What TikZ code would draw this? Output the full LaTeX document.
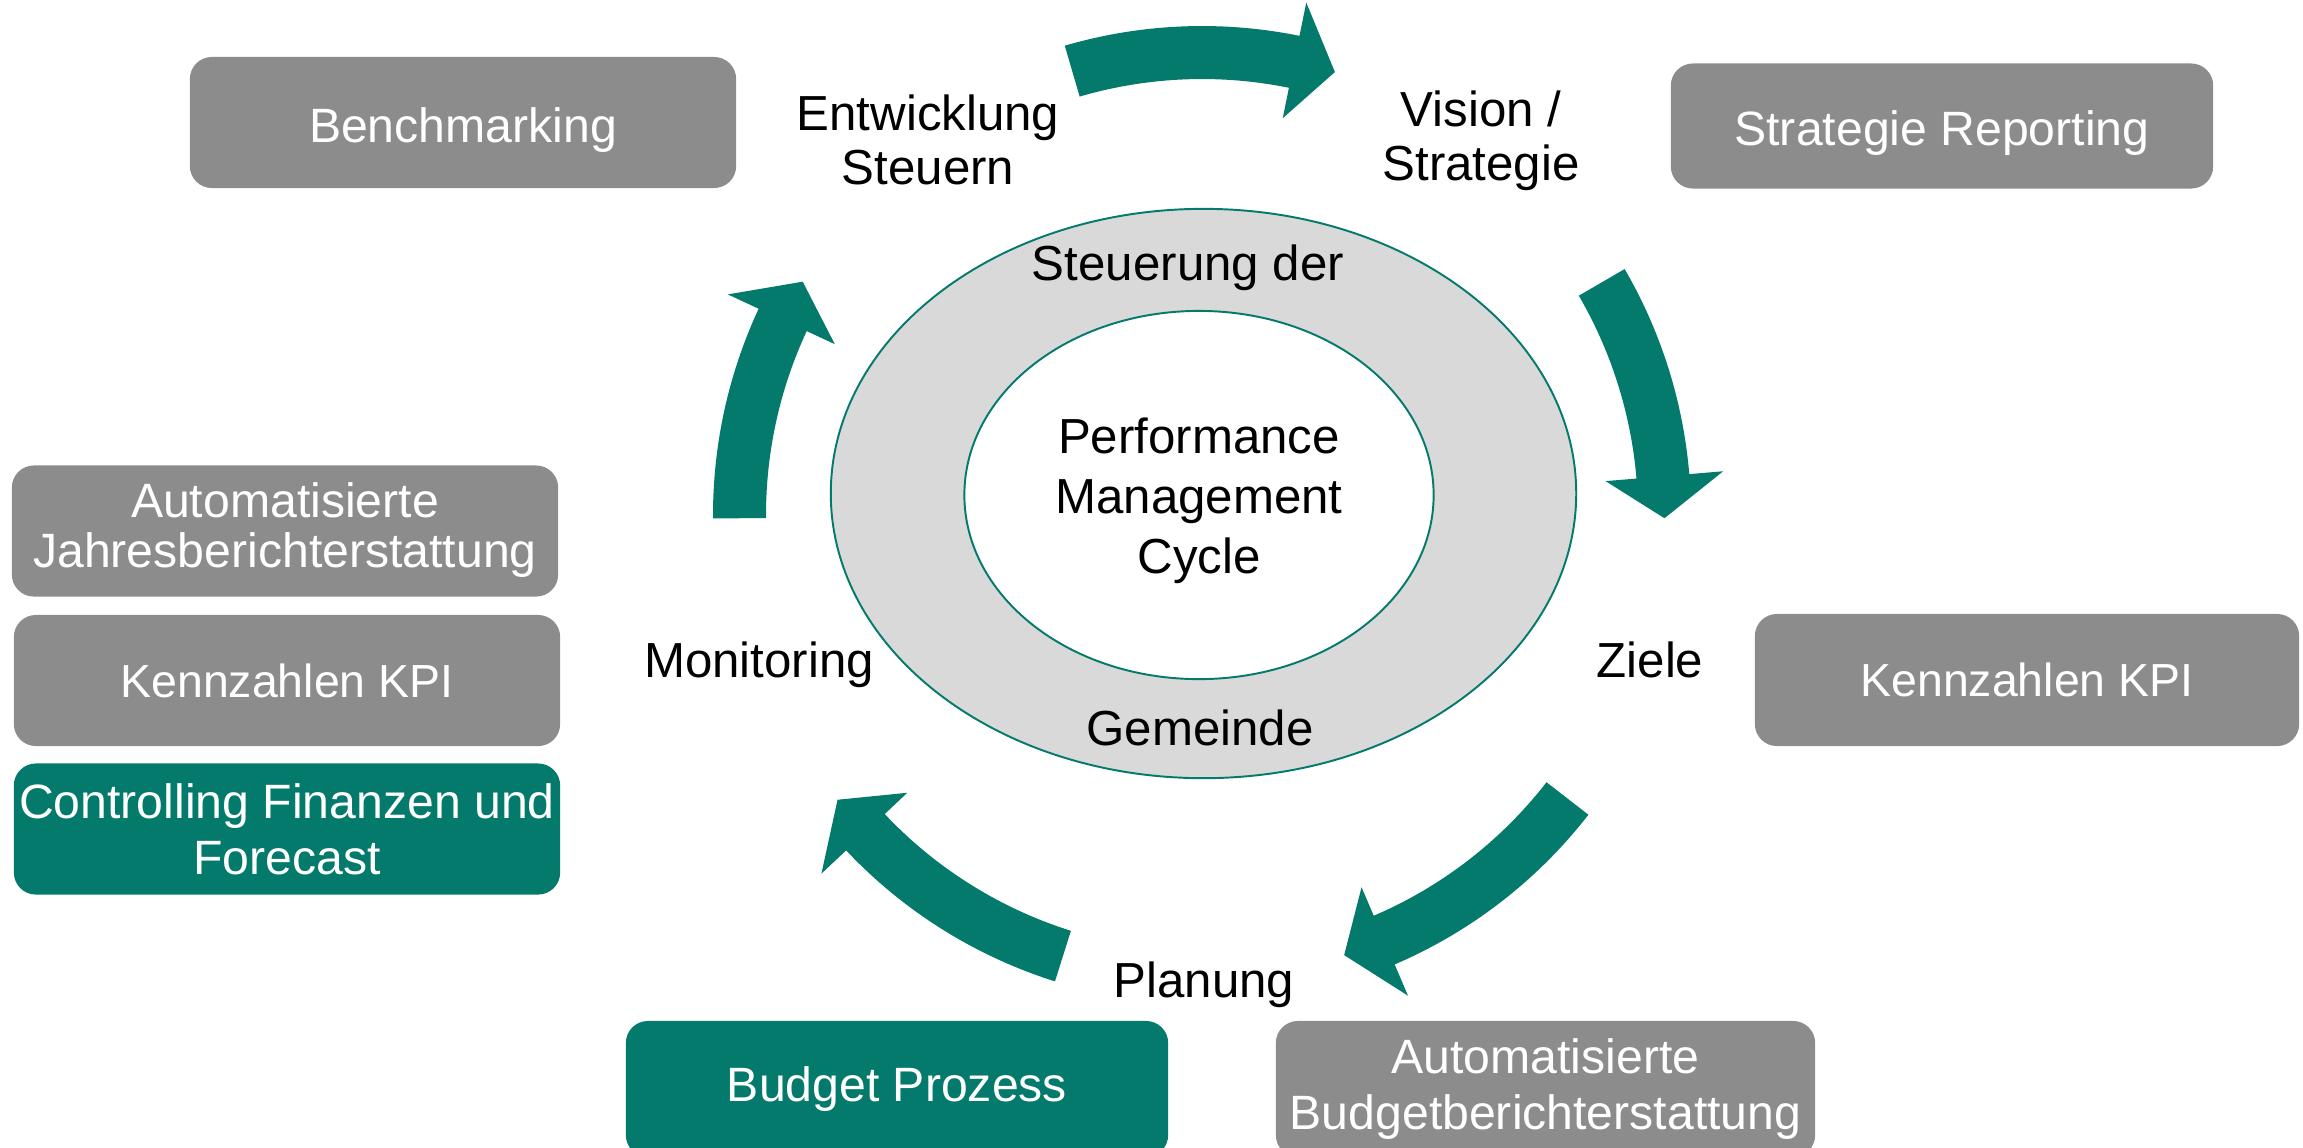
\documentclass[tikz,border=0pt]{standalone}
\usepackage{fontspec}
\setmainfont{Liberation Sans}
\usetikzlibrary{shapes.geometric}
\definecolor{pmteal}{RGB}{3,122,107}
\definecolor{pmgray}{RGB}{140,140,140}
\definecolor{pmring}{RGB}{217,217,217}
\newcommand\cyclearrow[3]{%
  \fill[pmteal] (#1:489) arc[start angle=#1, end angle=#2, radius=489]
    -- (#2:523) -- (#3:462.5) -- (#2:405) -- (#2:436)
    arc[start angle=#2, end angle=#1, radius=436] -- cycle;}
\begin{document}
\begin{tikzpicture}[x=0.01cm,y=0.01cm,
  boxbase/.style={rectangle, rounded corners=0.22cm, text=white, align=center, inner sep=0pt,
    font=\fontsize{13.7}{15.8}\selectfont},
  graybox/.style={boxbase, fill=pmgray},
  tealbox/.style={boxbase, fill=pmteal},
  lbl/.style={align=center, inner sep=0pt, font=\fontsize{14}{15.5}\selectfont},
  ring/.style={ellipse, draw=pmteal, line width=0.55pt, inner sep=0pt}]
\useasboundingbox (0,0) rectangle (2303,-1147);
\clip (0,0) rectangle (2303,-1147);

% central ellipses
\node[ring, fill=pmring, minimum width=7.45cm, minimum height=5.69cm] (outer) at (1203.5,-493.5) {};
\node[ring, fill=white, minimum width=4.69cm, minimum height=3.68cm] (inner) at (1199,-495) {};
\node[lbl, font=\fontsize{14}{17}\selectfont] (pmc) at (1199,-501) {Performance\\Management\\Cycle};
\node[lbl] (steu) at (1188,-268) {Steuerung der};
\node[lbl] (gem) at (1200,-728) {Gemeinde};

% cycle arrows
\begin{scope}[shift={(1202,-515)}]
  \cyclearrow{106.3}{78.5}{73.3}
  \cyclearrow{30.2}{4.8}{-0.4}
  \cyclearrow{-37.8}{-66.8}{-72.1}
  \cyclearrow{-107.5}{-136.7}{-142}
  \cyclearrow{180.4}{155.05}{149.7}
\end{scope}

% stage labels
\node[lbl] (entw) at (928,-140) {Entwicklung\\Steuern};
\node[lbl] (vis) at (1481,-141) {Vision /\\Strategie};
\node[lbl] (ziele) at (1650,-660) {Ziele};
\node[lbl] (plan) at (1204,-985) {Planung};
\node[lbl] (mon) at (759,-665) {Monitoring};

% boxes
\node[graybox, minimum width=5.46cm, minimum height=1.31cm, text height=14pt] (bench) at (463,-122.5) {Benchmarking};
\node[graybox, minimum width=5.42cm, minimum height=1.25cm, text height=14pt] (strat) at (1942,-126) {Strategie Reporting};
\node[graybox, minimum width=5.46cm, minimum height=1.31cm] (jahr) at (285,-531) {\raisebox{-0.05cm}{Automatisierte}\\Jahresberichterstattung\rule[-0.12cm]{0pt}{0pt}};
\node[graybox, minimum width=5.46cm, minimum height=1.31cm, font=\fontsize{13.2}{15.8}\selectfont] (kpil) at (287,-680.5) {Kennzahlen KPI};
\node[tealbox, minimum width=5.46cm, minimum height=1.31cm] (ctrl) at (287,-829) {Controlling Finanzen und\\Forecast};
\node[graybox, minimum width=5.44cm, minimum height=1.32cm, font=\fontsize{13.2}{15.8}\selectfont] (kpir) at (2027,-680) {Kennzahlen KPI};
\node[tealbox, minimum width=5.42cm, minimum height=1.36cm] (budg) at (897,-1089) {Budget Prozess};
\node[graybox, minimum width=5.39cm, minimum height=1.36cm] (abud) at (1545.5,-1089) {Automatisierte\\Budgetberichterstattung};
\end{tikzpicture}
\end{document}
